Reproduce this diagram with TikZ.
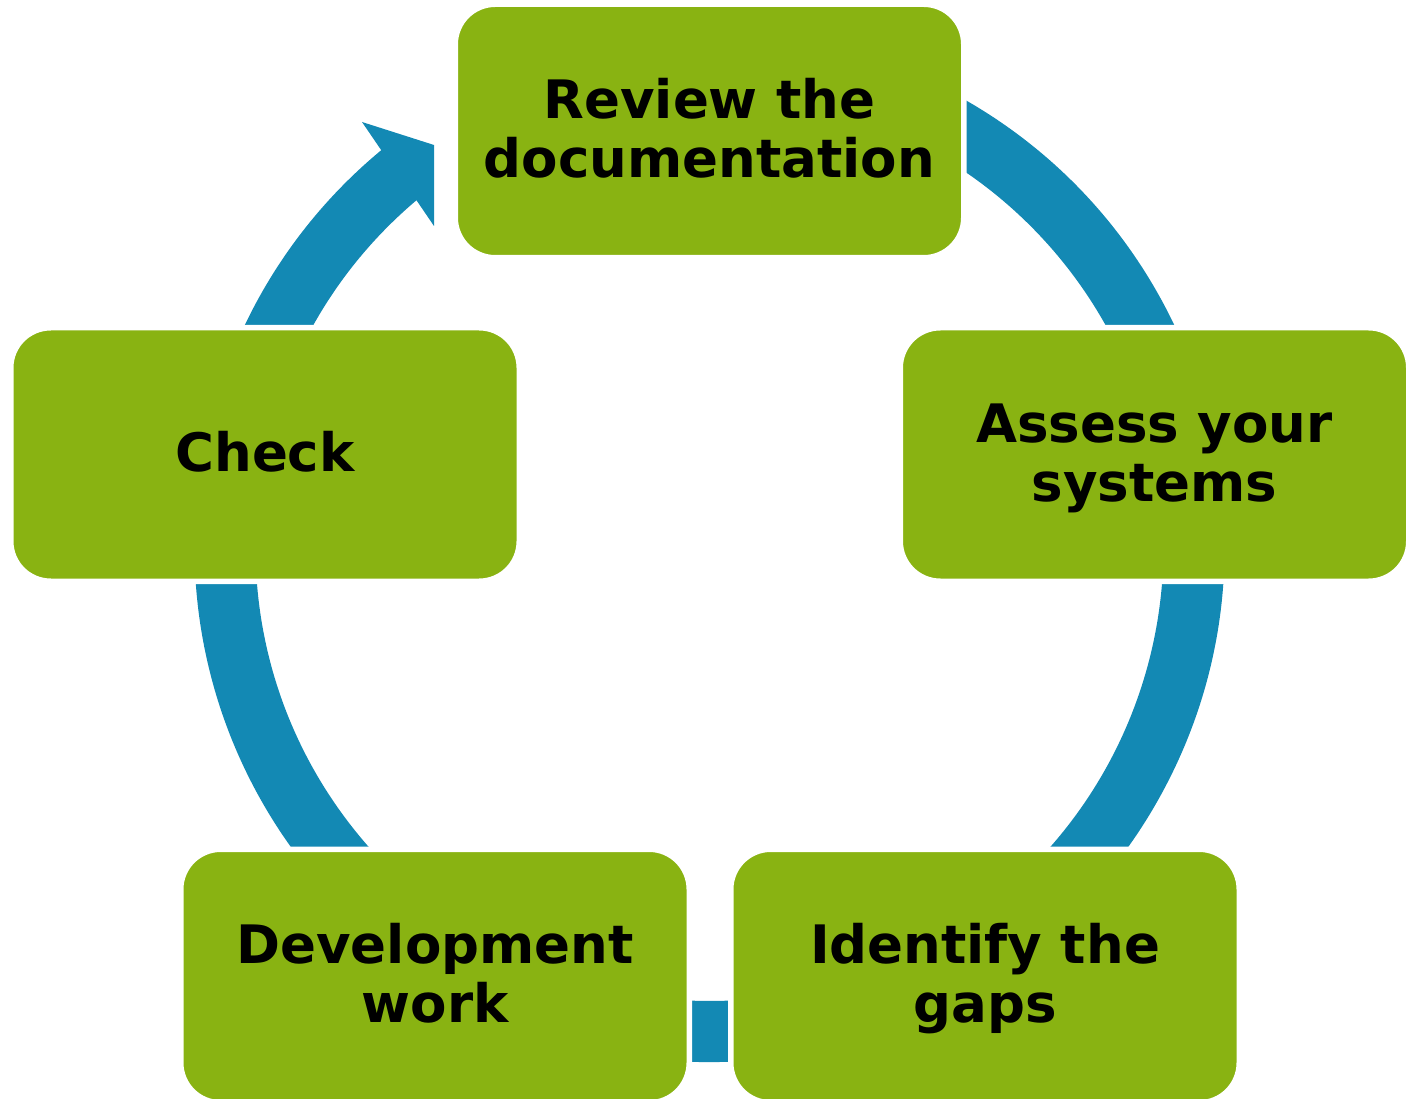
\documentclass[tikz,border=0pt]{standalone}
\usepackage{fontspec}
\usetikzlibrary{calc}
\newfontfamily\boxfont{DejaVu Sans}
\definecolor{stepgreen}{RGB}{137,179,18}
\definecolor{ringblue}{RGB}{19,137,180}
\newcommand\topstrut{\rule{0pt}{47.4pt}}
\newcommand\botstrut{\rule[-13pt]{0pt}{13pt}}
\begin{document}
\begin{tikzpicture}[x=1pt,y=-1pt,
  stepbox/.style={fill=stepgreen, draw=white, line width=5.5pt, rounded corners=40pt,
    minimum width=508.5pt, minimum height=253.5pt, inner sep=0pt, align=center,
    font=\boxfont\bfseries\fontsize{53}{59}\selectfont, text=black}]
\useasboundingbox (0,0) rectangle (1414,1099);
\clip (0,0) rectangle (1414,1099);
\coordinate (c) at (709.5,547);
% ring with arrowhead
\fill[ringblue] ($(c)+(-62:515)$) arc[start angle=-62, end angle=230.4, radius=515]
  -- (362,122) -- (434,145) -- (434,226)
  -- ($(c)+(229.8:454)$) arc[start angle=229.8, end angle=-62, radius=454] -- cycle;
% boxes
\node[stepbox] (review) at (709.5,131) {\topstrut Review the\\documentation\botstrut};
\node[stepbox] (assess) at (1154.5,454.5) {\topstrut Assess your\\systems\botstrut};
\node[stepbox] (gaps) at (985,976) {\topstrut Identify the\\gaps\botstrut};
\node[stepbox] (dev) at (435,976) {\topstrut Development\\work\botstrut};
\node[stepbox] (check) at (265,454.5) {\topstrut Check\botstrut};
\end{tikzpicture}
\end{document}
